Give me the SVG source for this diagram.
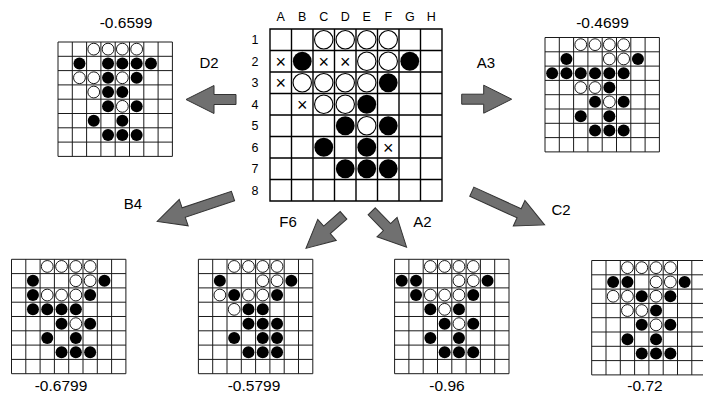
<svg xmlns="http://www.w3.org/2000/svg" xmlns:xlink="http://www.w3.org/1999/xlink" width="703" height="399" viewBox="0 0 703 399">
<style>
text{font-family:"Liberation Sans",Arial,sans-serif;fill:#000}
.lbl{font-size:15px;text-anchor:middle}
.val{font-size:15.5px;text-anchor:middle}
.coord{font-size:12.5px;text-anchor:middle}
.x{font-size:18px;text-anchor:middle;font-weight:300}
.sg{fill:#fff;stroke:#1a1a1a;stroke-width:1}
.mg{fill:#fff;stroke:#000;stroke-width:1.4}
.sb{fill:#000}
.sw{fill:#fff;stroke:#000;stroke-width:0.9}
.mw{fill:#fff;stroke:#000;stroke-width:1.1}
.arr{fill:#707070;stroke:#333;stroke-width:1}
</style>
<defs>
<path id="sgrid" class="sg" d="M0 0H114.4V114.4H0Z M0 14.3H114.4M0 28.6H114.4M0 42.9H114.4M0 57.2H114.4M0 71.5H114.4M0 85.8H114.4M0 100.1H114.4M14.3 0V114.4M28.6 0V114.4M42.9 0V114.4M57.2 0V114.4M71.5 0V114.4M85.8 0V114.4M100.1 0V114.4"/>
<polygon id="ashort" class="arr" points="0,-5 22,-5 22,-14 50,0 22,14 22,5 0,5"/>
<polygon id="along" class="arr" points="0,-5 52,-5 52,-14 80,0 52,14 52,5 0,5"/>
</defs>

<g id="connectors">
<use href="#ashort" transform="translate(236,99.5) rotate(180)"/>
<use href="#ashort" transform="translate(461.7,99.2) rotate(0)"/>
<use href="#along" transform="translate(233,196) rotate(161.4)"/>
<use href="#ashort" transform="translate(343.5,215.3) rotate(138.6)"/>
<use href="#ashort" transform="translate(371.7,211.3) rotate(45.8)"/>
<use href="#along" transform="translate(471.8,191.7) rotate(24.5)"/>
<text class="lbl" x="209" y="68.3">D2</text>
<text class="lbl" x="486" y="68.3">A3</text>
<text class="lbl" x="133" y="209">B4</text>
<text class="lbl" x="288" y="226.7">F6</text>
<text class="lbl" x="422.5" y="226.7">A2</text>
<text class="lbl" x="561" y="215">C2</text>
</g>

<g id="main-board">
<g class="coord-labels">
<text class="coord" x="280.75" y="20.5">A</text>
<text class="coord" x="302.25" y="20.5">B</text>
<text class="coord" x="323.75" y="20.5">C</text>
<text class="coord" x="345.25" y="20.5">D</text>
<text class="coord" x="366.75" y="20.5">E</text>
<text class="coord" x="388.25" y="20.5">F</text>
<text class="coord" x="409.75" y="20.5">G</text>
<text class="coord" x="431.25" y="20.5">H</text>
<text class="coord" x="255" y="44.3">1</text>
<text class="coord" x="255" y="65.8">2</text>
<text class="coord" x="255" y="87.3">3</text>
<text class="coord" x="255" y="108.8">4</text>
<text class="coord" x="255" y="130.3">5</text>
<text class="coord" x="255" y="151.8">6</text>
<text class="coord" x="255" y="173.3">7</text>
<text class="coord" x="255" y="194.8">8</text>
</g>
<g transform="translate(270,29)">
<path class="mg" d="M0 0H172V172H0Z M0 21.5H172M0 43H172M0 64.5H172M0 86H172M0 107.5H172M0 129H172M0 150.5H172M21.5 0V172M43 0V172M64.5 0V172M86 0V172M107.5 0V172M129 0V172M150.5 0V172"/>
<circle class="mw" cx="53.75" cy="10.75" r="9.2"/>
<circle class="mw" cx="75.25" cy="10.75" r="9.2"/>
<circle class="mw" cx="96.75" cy="10.75" r="9.2"/>
<circle class="mw" cx="118.25" cy="10.75" r="9.2"/>
<circle class="mw" cx="96.75" cy="32.25" r="9.2"/>
<circle class="mw" cx="118.25" cy="32.25" r="9.2"/>
<circle class="mw" cx="32.25" cy="53.75" r="9.2"/>
<circle class="mw" cx="53.75" cy="53.75" r="9.2"/>
<circle class="mw" cx="75.25" cy="53.75" r="9.2"/>
<circle class="mw" cx="96.75" cy="53.75" r="9.2"/>
<circle class="mw" cx="53.75" cy="75.25" r="9.2"/>
<circle class="mw" cx="75.25" cy="75.25" r="9.2"/>
<circle class="mw" cx="96.75" cy="96.75" r="9.2"/>
<circle class="sb" cx="32.25" cy="32.25" r="9.4"/>
<circle class="sb" cx="139.75" cy="32.25" r="9.4"/>
<circle class="sb" cx="118.25" cy="53.75" r="9.4"/>
<circle class="sb" cx="96.75" cy="75.25" r="9.4"/>
<circle class="sb" cx="75.25" cy="96.75" r="9.4"/>
<circle class="sb" cx="118.25" cy="96.75" r="9.4"/>
<circle class="sb" cx="53.75" cy="118.25" r="9.4"/>
<circle class="sb" cx="96.75" cy="118.25" r="9.4"/>
<circle class="sb" cx="75.25" cy="139.75" r="9.4"/>
<circle class="sb" cx="96.75" cy="139.75" r="9.4"/>
<circle class="sb" cx="118.25" cy="139.75" r="9.4"/>
<text class="x" x="10.75" y="38.5">×</text>
<text class="x" x="53.75" y="38.5">×</text>
<text class="x" x="75.25" y="38.5">×</text>
<text class="x" x="10.75" y="60">×</text>
<text class="x" x="32.25" y="81.5">×</text>
<text class="x" x="118.25" y="124.5">×</text>
</g>
</g>

<g id="board-D2">
<text class="val" x="126" y="28.3">-0.6599</text>
<g transform="translate(58,42)">
<use href="#sgrid"/>
<circle class="sw" cx="35.75" cy="7.15" r="5.9"/>
<circle class="sw" cx="50.05" cy="7.15" r="5.9"/>
<circle class="sw" cx="64.35" cy="7.15" r="5.9"/>
<circle class="sw" cx="78.65" cy="7.15" r="5.9"/>
<circle class="sw" cx="21.45" cy="35.75" r="5.9"/>
<circle class="sw" cx="35.75" cy="35.75" r="5.9"/>
<circle class="sw" cx="64.35" cy="35.75" r="5.9"/>
<circle class="sw" cx="35.75" cy="50.05" r="5.9"/>
<circle class="sw" cx="64.35" cy="64.35" r="5.9"/>
<circle class="sb" cx="21.45" cy="21.45" r="6"/>
<circle class="sb" cx="50.05" cy="21.45" r="6"/>
<circle class="sb" cx="64.35" cy="21.45" r="6"/>
<circle class="sb" cx="78.65" cy="21.45" r="6"/>
<circle class="sb" cx="92.95" cy="21.45" r="6"/>
<circle class="sb" cx="50.05" cy="35.75" r="6"/>
<circle class="sb" cx="78.65" cy="35.75" r="6"/>
<circle class="sb" cx="50.05" cy="50.05" r="6"/>
<circle class="sb" cx="64.35" cy="50.05" r="6"/>
<circle class="sb" cx="50.05" cy="64.35" r="6"/>
<circle class="sb" cx="78.65" cy="64.35" r="6"/>
<circle class="sb" cx="35.75" cy="78.65" r="6"/>
<circle class="sb" cx="64.35" cy="78.65" r="6"/>
<circle class="sb" cx="50.05" cy="92.95" r="6"/>
<circle class="sb" cx="64.35" cy="92.95" r="6"/>
<circle class="sb" cx="78.65" cy="92.95" r="6"/>
</g>
</g>

<g id="board-A3">
<text class="val" x="602.5" y="28.3">-0.4699</text>
<g transform="translate(545,37.5)">
<use href="#sgrid"/>
<circle class="sw" cx="35.75" cy="7.15" r="5.9"/>
<circle class="sw" cx="50.05" cy="7.15" r="5.9"/>
<circle class="sw" cx="64.35" cy="7.15" r="5.9"/>
<circle class="sw" cx="78.65" cy="7.15" r="5.9"/>
<circle class="sw" cx="64.35" cy="21.45" r="5.9"/>
<circle class="sw" cx="78.65" cy="21.45" r="5.9"/>
<circle class="sw" cx="35.75" cy="50.05" r="5.9"/>
<circle class="sw" cx="50.05" cy="50.05" r="5.9"/>
<circle class="sw" cx="64.35" cy="64.35" r="5.9"/>
<circle class="sb" cx="21.45" cy="21.45" r="6"/>
<circle class="sb" cx="92.95" cy="21.45" r="6"/>
<circle class="sb" cx="7.15" cy="35.75" r="6"/>
<circle class="sb" cx="21.45" cy="35.75" r="6"/>
<circle class="sb" cx="35.75" cy="35.75" r="6"/>
<circle class="sb" cx="50.05" cy="35.75" r="6"/>
<circle class="sb" cx="64.35" cy="35.75" r="6"/>
<circle class="sb" cx="78.65" cy="35.75" r="6"/>
<circle class="sb" cx="64.35" cy="50.05" r="6"/>
<circle class="sb" cx="50.05" cy="64.35" r="6"/>
<circle class="sb" cx="78.65" cy="64.35" r="6"/>
<circle class="sb" cx="35.75" cy="78.65" r="6"/>
<circle class="sb" cx="64.35" cy="78.65" r="6"/>
<circle class="sb" cx="50.05" cy="92.95" r="6"/>
<circle class="sb" cx="64.35" cy="92.95" r="6"/>
<circle class="sb" cx="78.65" cy="92.95" r="6"/>
</g>
</g>

<g id="board-B4">
<text class="val" x="61" y="390.5">-0.6799</text>
<g transform="translate(11.5,259.3)">
<use href="#sgrid"/>
<circle class="sw" cx="35.75" cy="7.15" r="5.9"/>
<circle class="sw" cx="50.05" cy="7.15" r="5.9"/>
<circle class="sw" cx="64.35" cy="7.15" r="5.9"/>
<circle class="sw" cx="78.65" cy="7.15" r="5.9"/>
<circle class="sw" cx="64.35" cy="21.45" r="5.9"/>
<circle class="sw" cx="78.65" cy="21.45" r="5.9"/>
<circle class="sw" cx="35.75" cy="35.75" r="5.9"/>
<circle class="sw" cx="50.05" cy="35.75" r="5.9"/>
<circle class="sw" cx="64.35" cy="35.75" r="5.9"/>
<circle class="sw" cx="64.35" cy="64.35" r="5.9"/>
<circle class="sb" cx="21.45" cy="21.45" r="6"/>
<circle class="sb" cx="92.95" cy="21.45" r="6"/>
<circle class="sb" cx="21.45" cy="35.75" r="6"/>
<circle class="sb" cx="78.65" cy="35.75" r="6"/>
<circle class="sb" cx="21.45" cy="50.05" r="6"/>
<circle class="sb" cx="35.75" cy="50.05" r="6"/>
<circle class="sb" cx="50.05" cy="50.05" r="6"/>
<circle class="sb" cx="64.35" cy="50.05" r="6"/>
<circle class="sb" cx="50.05" cy="64.35" r="6"/>
<circle class="sb" cx="78.65" cy="64.35" r="6"/>
<circle class="sb" cx="35.75" cy="78.65" r="6"/>
<circle class="sb" cx="64.35" cy="78.65" r="6"/>
<circle class="sb" cx="50.05" cy="92.95" r="6"/>
<circle class="sb" cx="64.35" cy="92.95" r="6"/>
<circle class="sb" cx="78.65" cy="92.95" r="6"/>
</g>
</g>

<g id="board-F6">
<text class="val" x="254" y="390.5">-0.5799</text>
<g transform="translate(198.4,259.3)">
<use href="#sgrid"/>
<circle class="sw" cx="35.75" cy="7.15" r="5.9"/>
<circle class="sw" cx="50.05" cy="7.15" r="5.9"/>
<circle class="sw" cx="64.35" cy="7.15" r="5.9"/>
<circle class="sw" cx="78.65" cy="7.15" r="5.9"/>
<circle class="sw" cx="64.35" cy="21.45" r="5.9"/>
<circle class="sw" cx="78.65" cy="21.45" r="5.9"/>
<circle class="sw" cx="21.45" cy="35.75" r="5.9"/>
<circle class="sw" cx="50.05" cy="35.75" r="5.9"/>
<circle class="sw" cx="64.35" cy="35.75" r="5.9"/>
<circle class="sw" cx="35.75" cy="50.05" r="5.9"/>
<circle class="sb" cx="21.45" cy="21.45" r="6"/>
<circle class="sb" cx="92.95" cy="21.45" r="6"/>
<circle class="sb" cx="35.75" cy="35.75" r="6"/>
<circle class="sb" cx="78.65" cy="35.75" r="6"/>
<circle class="sb" cx="50.05" cy="50.05" r="6"/>
<circle class="sb" cx="64.35" cy="50.05" r="6"/>
<circle class="sb" cx="50.05" cy="64.35" r="6"/>
<circle class="sb" cx="64.35" cy="64.35" r="6"/>
<circle class="sb" cx="78.65" cy="64.35" r="6"/>
<circle class="sb" cx="35.75" cy="78.65" r="6"/>
<circle class="sb" cx="64.35" cy="78.65" r="6"/>
<circle class="sb" cx="78.65" cy="78.65" r="6"/>
<circle class="sb" cx="50.05" cy="92.95" r="6"/>
<circle class="sb" cx="64.35" cy="92.95" r="6"/>
<circle class="sb" cx="78.65" cy="92.95" r="6"/>
</g>
</g>

<g id="board-A2">
<text class="val" x="447" y="390.5">-0.96</text>
<g transform="translate(394.6,259.3)">
<use href="#sgrid"/>
<circle class="sw" cx="35.75" cy="7.15" r="5.9"/>
<circle class="sw" cx="50.05" cy="7.15" r="5.9"/>
<circle class="sw" cx="64.35" cy="7.15" r="5.9"/>
<circle class="sw" cx="78.65" cy="7.15" r="5.9"/>
<circle class="sw" cx="64.35" cy="21.45" r="5.9"/>
<circle class="sw" cx="78.65" cy="21.45" r="5.9"/>
<circle class="sw" cx="35.75" cy="35.75" r="5.9"/>
<circle class="sw" cx="50.05" cy="35.75" r="5.9"/>
<circle class="sw" cx="64.35" cy="35.75" r="5.9"/>
<circle class="sw" cx="50.05" cy="50.05" r="5.9"/>
<circle class="sw" cx="64.35" cy="64.35" r="5.9"/>
<circle class="sb" cx="7.15" cy="21.45" r="6"/>
<circle class="sb" cx="21.45" cy="21.45" r="6"/>
<circle class="sb" cx="92.95" cy="21.45" r="6"/>
<circle class="sb" cx="21.45" cy="35.75" r="6"/>
<circle class="sb" cx="78.65" cy="35.75" r="6"/>
<circle class="sb" cx="35.75" cy="50.05" r="6"/>
<circle class="sb" cx="64.35" cy="50.05" r="6"/>
<circle class="sb" cx="50.05" cy="64.35" r="6"/>
<circle class="sb" cx="78.65" cy="64.35" r="6"/>
<circle class="sb" cx="35.75" cy="78.65" r="6"/>
<circle class="sb" cx="64.35" cy="78.65" r="6"/>
<circle class="sb" cx="50.05" cy="92.95" r="6"/>
<circle class="sb" cx="64.35" cy="92.95" r="6"/>
<circle class="sb" cx="78.65" cy="92.95" r="6"/>
</g>
</g>

<g id="board-C2">
<text class="val" x="645" y="390.5">-0.72</text>
<g transform="translate(591.7,260.5)">
<use href="#sgrid"/>
<circle class="sw" cx="35.75" cy="7.15" r="5.9"/>
<circle class="sw" cx="50.05" cy="7.15" r="5.9"/>
<circle class="sw" cx="64.35" cy="7.15" r="5.9"/>
<circle class="sw" cx="78.65" cy="7.15" r="5.9"/>
<circle class="sw" cx="64.35" cy="21.45" r="5.9"/>
<circle class="sw" cx="78.65" cy="21.45" r="5.9"/>
<circle class="sw" cx="21.45" cy="35.75" r="5.9"/>
<circle class="sw" cx="35.75" cy="35.75" r="5.9"/>
<circle class="sw" cx="64.35" cy="35.75" r="5.9"/>
<circle class="sw" cx="35.75" cy="50.05" r="5.9"/>
<circle class="sw" cx="50.05" cy="50.05" r="5.9"/>
<circle class="sw" cx="64.35" cy="64.35" r="5.9"/>
<circle class="sb" cx="21.45" cy="21.45" r="6"/>
<circle class="sb" cx="35.75" cy="21.45" r="6"/>
<circle class="sb" cx="92.95" cy="21.45" r="6"/>
<circle class="sb" cx="50.05" cy="35.75" r="6"/>
<circle class="sb" cx="78.65" cy="35.75" r="6"/>
<circle class="sb" cx="64.35" cy="50.05" r="6"/>
<circle class="sb" cx="50.05" cy="64.35" r="6"/>
<circle class="sb" cx="78.65" cy="64.35" r="6"/>
<circle class="sb" cx="35.75" cy="78.65" r="6"/>
<circle class="sb" cx="64.35" cy="78.65" r="6"/>
<circle class="sb" cx="50.05" cy="92.95" r="6"/>
<circle class="sb" cx="64.35" cy="92.95" r="6"/>
<circle class="sb" cx="78.65" cy="92.95" r="6"/>
</g>
</g>
</svg>
